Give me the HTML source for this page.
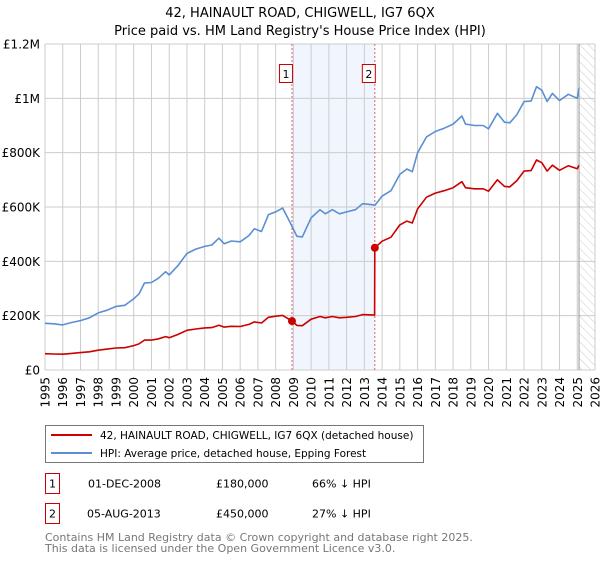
<!DOCTYPE html>
<html><head><meta charset="utf-8"><style>
body{margin:0;background:#fff;font-family:"DejaVu Sans","Liberation Sans",sans-serif;}
svg text{font-family:"DejaVu Sans","Liberation Sans",sans-serif;}
</style></head><body>
<svg id="chart" width="600" height="560" xmlns="http://www.w3.org/2000/svg">
<defs><pattern id="hatch" width="6" height="6" patternUnits="userSpaceOnUse" patternTransform="rotate(-45)"><line x1="0" y1="0" x2="0" y2="6" stroke="#ccc" stroke-width="1"/></pattern></defs>
<text x="300" y="17" text-anchor="middle" font-size="13">42, HAINAULT ROAD, CHIGWELL, IG7 6QX</text>
<text x="300" y="35" text-anchor="middle" font-size="13">Price paid vs. HM Land Registry's House Price Index (HPI)</text>
<g id="plot"></g>
<g>
<rect x="45.5" y="425.5" width="378" height="37" fill="#fff" stroke="#777"/>
<line x1="51" y1="435" x2="92" y2="435" stroke="#cc0000" stroke-width="2"/>
<text x="100" y="439" font-size="10.5">42, HAINAULT ROAD, CHIGWELL, IG7 6QX (detached house)</text>
<line x1="51" y1="453" x2="92" y2="453" stroke="#5b8fd4" stroke-width="2"/>
<text x="100" y="457" font-size="10.5">HPI: Average price, detached house, Epping Forest</text>
</g>
<g font-size="11">
<rect x="45.5" y="473.5" width="14" height="20" fill="#fff" stroke="#cc0000"/><text x="52.5" y="487.5" text-anchor="middle">1</text>
<text x="88" y="487.5">01-DEC-2008</text><text x="216" y="487.5">£180,000</text><text x="312" y="487.5">66% ↓ HPI</text>
<rect x="45.5" y="503.5" width="14" height="20" fill="#fff" stroke="#cc0000"/><text x="52.5" y="517.5" text-anchor="middle">2</text>
<text x="87" y="517.5">05-AUG-2013</text><text x="216" y="517.5">£450,000</text><text x="312" y="517.5">27% ↓ HPI</text>
</g>
<text x="45" y="541" font-size="11" fill="#777">Contains HM Land Registry data © Crown copyright and database right 2025.</text>
<text x="45" y="552" font-size="11" fill="#777">This data is licensed under the Open Government Licence v3.0.</text>
</svg>
<script>
const hpiYears=[1995,1995.5,1996,1996.5,1997,1997.5,1998,1998.5,1999,1999.5,2000,2000.3,2000.6,2001,2001.4,2001.8,2002,2002.5,2003,2003.5,2004,2004.4,2004.8,2005.1,2005.5,2006,2006.5,2006.8,2007.2,2007.6,2008,2008.4,2008.8,2009.2,2009.5,2010,2010.5,2010.8,2011.2,2011.6,2012,2012.5,2012.9,2013.6,2014,2014.5,2015,2015.4,2015.7,2016,2016.5,2017,2017.5,2018,2018.5,2018.7,2019.2,2019.7,2020,2020.5,2020.9,2021.2,2021.6,2022,2022.4,2022.7,2023,2023.3,2023.6,2024,2024.5,2025,2025.1];
const hpiValues=[172,170,166,175,182,192,210,220,234,238,262,280,320,322,338,362,350,385,429,445,455,460,485,465,475,472,495,520,510,572,582,596,545,492,490,560,590,575,590,575,582,590,612,607,640,660,720,740,730,800,858,878,890,905,935,905,900,900,888,945,912,910,940,988,990,1043,1030,988,1018,992,1015,1000,1037];
const priceYears=[1995,1995.5,1996,1996.5,1997,1997.5,1998,1998.5,1999,1999.5,2000,2000.3,2000.6,2001,2001.4,2001.8,2002,2002.5,2003,2003.5,2004,2004.4,2004.8,2005.1,2005.5,2006,2006.5,2006.8,2007.2,2007.6,2008,2008.4,2008.92,2009.2,2009.5,2010,2010.5,2010.8,2011.2,2011.6,2012,2012.5,2012.9,2013.58,2013.59,2014,2014.5,2015,2015.4,2015.7,2016,2016.5,2017,2017.5,2018,2018.5,2018.7,2019.2,2019.7,2020,2020.5,2020.9,2021.2,2021.6,2022,2022.4,2022.7,2023,2023.3,2023.6,2024,2024.5,2025,2025.1];
const priceValues=[60,59,58,61,64,67,73,77,81,82,90,96,110,110,115,123,119,131,146,151,155,156,165,158,161,160,168,177,173,194,198,201,180,164,163,187,197,192,197,192,194,197,204,202,450,474,489,534,548,541,593,636,651,660,671,693,671,667,667,658,700,676,674,697,732,734,773,763,732,754,735,752,741,754];
const saleYears=[2008.92,2013.59];
const saleValues=[180,450];
const saleLabels=["1","2"];
const yTicks=[0,200,400,600,800,1000,1200];
const yTickLabels=["£0","£200K","£400K","£600K","£800K","£1M","£1.2M"];
const xTicks=[1995,1996,1997,1998,1999,2000,2001,2002,2003,2004,2005,2006,2007,2008,2009,2010,2011,2012,2013,2014,2015,2016,2017,2018,2019,2020,2021,2022,2023,2024,2025,2026];
const dataEnd=2025.1;
const X0=45,X1=595,Y0=370,Y1=44;
const xs=v=>X0+(v-1995)/(2026-1995)*(X1-X0);
const ys=v=>Y0-v/1200*(Y0-Y1);
const NS="http://www.w3.org/2000/svg";
const g=document.getElementById('plot');
function mk(t,a){const e=document.createElementNS(NS,t);for(const k in a)e.setAttribute(k,a[k]);g.appendChild(e);return e;}
let e=mk('rect',{x:xs(saleYears[0]),y:Y1,width:xs(saleYears[1])-xs(saleYears[0]),height:Y0-Y1,fill:'#eef3fd',opacity:0.8});


e=mk('rect',{x:xs(dataEnd),y:Y1,width:X1-xs(dataEnd),height:Y0-Y1,fill:'url(#hatch)'});


xTicks.forEach(t=>{
 const l=mk('line',{x1:xs(t),x2:xs(t),y1:Y1,y2:Y0,stroke:'#ccc','stroke-width':1});
 
 
 const tx=mk('text',{x:0,y:0,'font-size':12,'text-anchor':'end',transform:`translate(${xs(t)+4.5},377) rotate(-90)`});
 tx.textContent=t;
 
 
});
yTicks.forEach((t,i)=>{
 const l=mk('line',{x1:X0,x2:X1,y1:ys(t),y2:ys(t),stroke:'#ccc','stroke-width':1});
 
 
 const tx=mk('text',{x:40,y:ys(t)+4.5,'font-size':12,'text-anchor':'end'});
 tx.textContent=yTickLabels[i];
 
 
});
e=mk('line',{x1:xs(dataEnd),x2:xs(dataEnd),y1:Y1,y2:Y0,stroke:'#999','stroke-width':1});


saleYears.forEach((s,i)=>{
 const l=mk('line',{x1:xs(s),x2:xs(s),y1:Y1,y2:Y0,stroke:'#e06060','stroke-width':1,'stroke-dasharray':'2,2'});
 
 
 const r=mk('rect',{x:xs(s)-12.5,y:64.5,width:13,height:18,fill:'#fff',stroke:'#cc0000'});
 
 
 const t=mk('text',{x:xs(s)-6,y:78,'font-size':11,'text-anchor':'middle'});
 t.textContent=saleLabels[i];
 
 
});
function path(xa,va,color,name){
 const d=xa.map((x,i)=>(i?'L':'M')+xs(x).toFixed(1)+','+ys(va[i]).toFixed(1)).join('');
 const p=mk('path',{d:d,fill:'none',stroke:color,'stroke-width':1.6,'stroke-linejoin':'round'});
 
 
}
path(hpiYears,hpiValues,'#5b8fd4','hpi-line');
path(priceYears,priceValues,'#cc0000','price-paid-line');
saleYears.forEach((s,i)=>{
 const c=mk('circle',{cx:xs(s),cy:ys(saleValues[i]),r:4,fill:'#cc0000'});
 
 
});
</script>
</body></html>
